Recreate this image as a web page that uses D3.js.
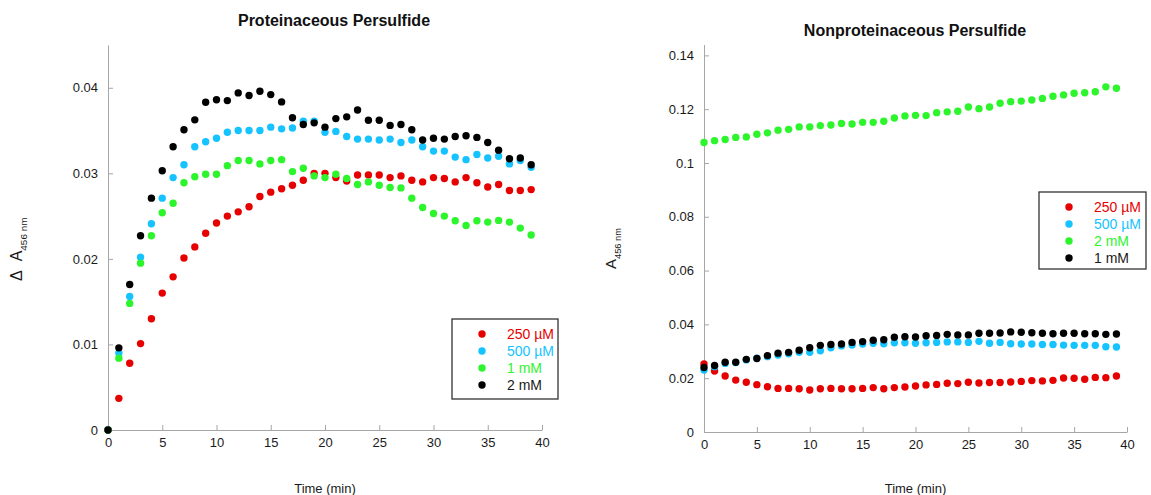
<!DOCTYPE html>
<html>
<head>
<meta charset="utf-8">
<script src="https://cdn.jsdelivr.net/npm/d3@7"></script>
<style>
  body { margin: 0; background: #fff; }
  text { font-family: Arial, "Liberation Sans", sans-serif; }
</style>
</head>
<body>
<div id="chart"></div>
<script>
// time points (min), same for every series
var times = d3.range(0, 40);

// Proteinaceous persulfide, delta A456
var protRed = [0, 0.0037, 0.0078, 0.0101, 0.0130, 0.0160, 0.0179, 0.0201, 0.0214, 0.0230,
  0.0242, 0.0250, 0.0255, 0.0261, 0.0273, 0.0278, 0.0282, 0.0286, 0.0292, 0.0300,
  0.0300, 0.0295, 0.0291, 0.0298, 0.0298, 0.0298, 0.0295, 0.0297, 0.0292, 0.0290,
  0.0295, 0.0294, 0.0290, 0.0295, 0.0289, 0.0284, 0.0287, 0.0280, 0.0280, 0.0281];
var protCyan = [0, 0.0090, 0.0156, 0.0202, 0.0241, 0.0271, 0.0295, 0.0310, 0.0331, 0.0337,
  0.0341, 0.0348, 0.0350, 0.0350, 0.0350, 0.0354, 0.0352, 0.0353, 0.0361, 0.0361,
  0.0348, 0.0349, 0.0343, 0.0340, 0.0340, 0.0339, 0.0340, 0.0336, 0.0339, 0.0331,
  0.0326, 0.0326, 0.0319, 0.0316, 0.0322, 0.0318, 0.0320, 0.0311, 0.0315, 0.0307];
var protGreen = [0, 0.0084, 0.0148, 0.0195, 0.0227, 0.0254, 0.0265, 0.0289, 0.0296, 0.0299,
  0.0299, 0.0309, 0.0315, 0.0315, 0.0311, 0.0315, 0.0316, 0.0302, 0.0306, 0.0297,
  0.0295, 0.0299, 0.0294, 0.0287, 0.0290, 0.0286, 0.02835, 0.0283, 0.0271, 0.0260,
  0.0253, 0.0250, 0.02445, 0.0239, 0.02445, 0.0243, 0.0245, 0.0243, 0.0236, 0.0228];
var protBlack = [0, 0.0096, 0.0170, 0.0227, 0.0271, 0.0303, 0.0331, 0.0351, 0.03625, 0.0383,
  0.0386, 0.0385, 0.0394, 0.0391, 0.0396, 0.0392, 0.03835, 0.0365, 0.0357, 0.0359,
  0.0354, 0.0364, 0.0366, 0.0374, 0.0362, 0.0362, 0.0356, 0.0357, 0.0351, 0.0339,
  0.0341, 0.0340, 0.0343, 0.0344, 0.0342, 0.0336, 0.0327, 0.0317, 0.0318, 0.0310];

// Nonproteinaceous persulfide, A456
var nonRed = [0.0253, 0.0227, 0.0208, 0.0193, 0.0185, 0.0176, 0.0168, 0.0162, 0.0162, 0.0161,
  0.0156, 0.0161, 0.0162, 0.0161, 0.0161, 0.0162, 0.0165, 0.0161, 0.0165, 0.0167,
  0.0171, 0.0175, 0.0177, 0.0181, 0.0180, 0.0185, 0.0182, 0.0184, 0.0184, 0.0186,
  0.0188, 0.0191, 0.0190, 0.0192, 0.0201, 0.0200, 0.0196, 0.0203, 0.0202, 0.0208];
var nonCyan = [0.0230, 0.0243, 0.0255, 0.0258, 0.0268, 0.0274, 0.0280, 0.0286, 0.0291, 0.0296,
  0.0296, 0.0302, 0.0313, 0.0320, 0.0323, 0.0327, 0.0330, 0.0328, 0.0332, 0.0332,
  0.0330, 0.0332, 0.0333, 0.0335, 0.0335, 0.0333, 0.0337, 0.0330, 0.0333, 0.0328,
  0.0327, 0.0327, 0.0325, 0.0325, 0.0323, 0.0322, 0.0322, 0.0322, 0.0317, 0.0316];
var nonGreen = [0.1076, 0.1083, 0.1087, 0.1095, 0.1097, 0.1107, 0.1112, 0.1122, 0.1125, 0.1134,
  0.1134, 0.1139, 0.1141, 0.1147, 0.1145, 0.1151, 0.1151, 0.1155, 0.1167, 0.1175,
  0.1177, 0.1176, 0.1187, 0.1190, 0.1192, 0.1208, 0.1202, 0.1208, 0.1222, 0.1228,
  0.1230, 0.1234, 0.1240, 0.1248, 0.1253, 0.1259, 0.1261, 0.1265, 0.1283, 0.1278];
var nonBlack = [0.0240, 0.0247, 0.0259, 0.0259, 0.0270, 0.0273, 0.0284, 0.0293, 0.0296, 0.0304,
  0.0313, 0.0322, 0.0325, 0.0327, 0.0333, 0.0336, 0.0341, 0.0343, 0.0352, 0.0354,
  0.0353, 0.0358, 0.0359, 0.0363, 0.0361, 0.0361, 0.0367, 0.0367, 0.0368, 0.0372,
  0.0371, 0.0369, 0.0367, 0.0365, 0.0367, 0.0367, 0.0365, 0.0365, 0.0363, 0.0364];

// tick labels
var xTicks = [0, 5, 10, 15, 20, 25, 30, 35, 40];
var protYTicks = [0, 0.01, 0.02, 0.03, 0.04];
var nonYTicks = [0, 0.02, 0.04, 0.06, 0.08, 0.1, 0.12, 0.14];

// legend labels (the two panels name the green and black series differently)
var protLabels = ["250 \u00b5M", "500 \u00b5M", "1 mM", "2 mM"];
var nonLabels = ["250 \u00b5M", "500 \u00b5M", "2 mM", "1 mM"];

var colors = ["#e60000", "#14c3ff", "#2cf52c", "#000000"];
var textColors = ["#e60000", "#14c3ff", "#2cf52c", "#1a1a1a"];

var svg = d3.select("#chart")
  .append("svg")
  .attr("width", 1151)
  .attr("height", 495);

// draws one panel: axes, dots, title, labels, legend
function drawPanel(p) {
  var xScale = d3.scaleLinear().domain([0, 40]).range([p.left, p.right]);
  var yScale = d3.scaleLinear().domain([0, p.yMax]).range([p.bottom, p.top]);

  var xAxis = d3.axisBottom(xScale)
    .tickValues(xTicks)
    .tickSizeInner(-5)
    .tickSizeOuter(0)
    .tickPadding(8)
    .tickFormat(d => d);
  var yAxis = d3.axisLeft(yScale)
    .tickValues(p.yTicks)
    .tickSizeInner(-5)
    .tickSizeOuter(0)
    .tickPadding(10)
    .tickFormat(d => d);

  var gx = svg.append("g")
    .attr("transform", `translate(0,${p.bottom})`)
    .call(xAxis);
  var gy = svg.append("g")
    .attr("transform", `translate(${p.left},0)`)
    .call(yAxis);

  [gx, gy].forEach(function (g) {
    g.select(".domain").attr("stroke", "#a6a6a6");
    g.selectAll(".tick line").attr("stroke", "#a6a6a6");
    g.selectAll(".tick text")
      .attr("fill", "#1a1a1a")
      .style("font-size", "13px")
      .style("font-family", "Arial, 'Liberation Sans', sans-serif");
  });

  // dots, drawn in legend order
  p.series.forEach(function (vals, i) {
    svg.append("g").selectAll("circle")
      .data(vals)
      .enter()
      .append("circle")
      .attr("cx", (d, j) => xScale(times[j]))
      .attr("cy", d => yScale(d))
      .attr("r", 3.7)
      .attr("fill", colors[i]);
  });

  // title
  svg.append("text")
    .attr("x", p.titleX)
    .attr("y", p.titleY)
    .attr("text-anchor", "middle")
    .style("font-size", "16px")
    .style("font-weight", "bold")
    .attr("fill", "#111")
    .text(p.title);

  // x label
  svg.append("text")
    .attr("x", (p.left + p.right) / 2)
    .attr("y", 493)
    .attr("text-anchor", "middle")
    .style("font-size", "13px")
    .attr("fill", "#1a1a1a")
    .text("Time (min)");

  // y label with subscript
  var yl = svg.append("text")
    .attr("transform", `translate(${p.yLabX},${p.yLabY}) rotate(-90)`)
    .attr("text-anchor", "start")
    .attr("fill", "#1a1a1a")
    .style("font-size", p.yLabSize + "px");
  if (p.yLabPre) {
    yl.append("tspan").text(p.yLabPre);
  }
  yl.append("tspan").attr("dx", p.yLabPre ? 9 : 0).text("A");
  yl.append("tspan")
    .attr("dy", p.yLabSize * 0.3)
    .style("font-size", (p.yLabSize * 0.62) + "px")
    .text("456 nm");

  // legend box
  var lg = svg.append("g").attr("transform", `translate(${p.legX},${p.legY})`);
  lg.append("rect")
    .attr("width", p.legW)
    .attr("height", p.legH)
    .attr("fill", "#fff")
    .attr("stroke", "#333")
    .attr("stroke-width", 1.3);
  p.labels.forEach(function (lab, i) {
    var cy = 15 + i * 17;
    lg.append("circle")
      .attr("cx", 30)
      .attr("cy", cy)
      .attr("r", 3.7)
      .attr("fill", colors[i]);
    lg.append("text")
      .attr("x", 55)
      .attr("y", cy + 5)
      .style("font-size", "14px")
      .attr("fill", textColors[i])
      .text(lab);
  });
}

drawPanel({
  left: 108, right: 542, top: 45, bottom: 430, yMax: 0.045,
  yTicks: protYTicks,
  series: [protRed, protCyan, protGreen, protBlack],
  labels: protLabels,
  title: "Proteinaceous Persulfide", titleX: 334, titleY: 26,
  yLabPre: "\u0394", yLabX: 22, yLabY: 281, yLabSize: 16,
  legX: 452, legY: 319, legW: 106, legH: 80
});

drawPanel({
  left: 704, right: 1127, top: 44.6, bottom: 432, yMax: 0.144,
  yTicks: nonYTicks,
  series: [nonRed, nonCyan, nonGreen, nonBlack],
  labels: nonLabels,
  title: "Nonproteinaceous Persulfide", titleX: 915, titleY: 36,
  yLabPre: null, yLabX: 616, yLabY: 269, yLabSize: 15,
  legX: 1039, legY: 192, legW: 107, legH: 77
});
</script>
</body>
</html>
